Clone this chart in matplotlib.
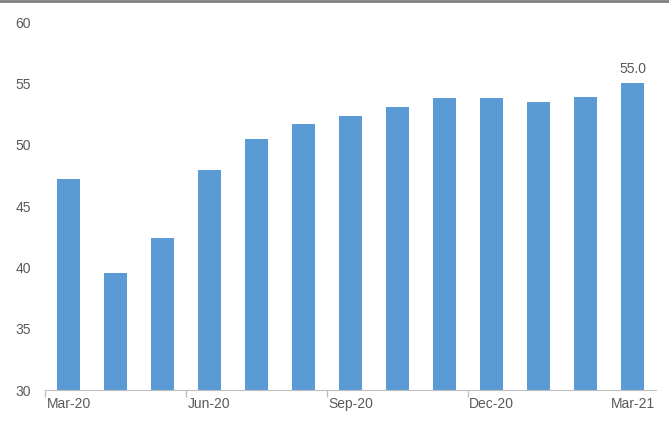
import numpy as np
import matplotlib.pyplot as plt
from matplotlib.lines import Line2D

plt.rcParams['font.family'] = ['Liberation Sans', 'DejaVu Sans']

# data
months = ["Mar-20", "Apr-20", "May-20", "Jun-20", "Jul-20", "Aug-20", "Sep-20",
          "Oct-20", "Nov-20", "Dec-20", "Jan-21", "Feb-21", "Mar-21"]
values = [47.2, 39.5, 42.4, 47.9, 50.5, 51.7, 52.3, 53.1, 53.8, 53.8, 53.5, 53.9, 55.0]

bar_color = "#5B9BD5"
text_color = "#595959"

fig = plt.figure(figsize=(6.69, 4.23), dpi=100)
ax = fig.add_axes([45/669, 1 - 390/423, 611/669, (390 - 22)/423])

x = np.arange(len(months))
ax.bar(x, values, width=0.5, color=bar_color)

ax.set_xlim(-0.5, len(months) - 0.5)
ax.set_ylim(30, 60)
ax.set_yticks([30, 35, 40, 45, 50, 55, 60])

# labels every third month, tick marks at category edges
ax.set_xticks(x[::3])
ax.set_xticklabels([months[i] for i in x[::3]])
ax.set_xticks(x[::3][:-1] - 0.5, minor=True)
ax.tick_params(axis="x", which="major", length=0, pad=5, labelsize=10, colors=text_color)
ax.tick_params(axis="x", which="minor", length=5, width=1, color="#BFBFBF")
ax.tick_params(axis="y", length=0, pad=10, labelsize=10, colors=text_color)

for s in ["top", "right", "left"]:
    ax.spines[s].set_visible(False)
ax.spines["bottom"].set_color("#BFBFBF")

# value label on last bar
ax.text(x[-1], values[-1] + 0.6, "{:.1f}".format(values[-1]), ha="center", va="bottom",
        fontsize=10, color=text_color)

# top border line
fig.add_artist(Line2D([0, 1], [0.997, 0.997], transform=fig.transFigure, color="#7F7F7F", linewidth=2))

plt.savefig("out.png", dpi=100)
